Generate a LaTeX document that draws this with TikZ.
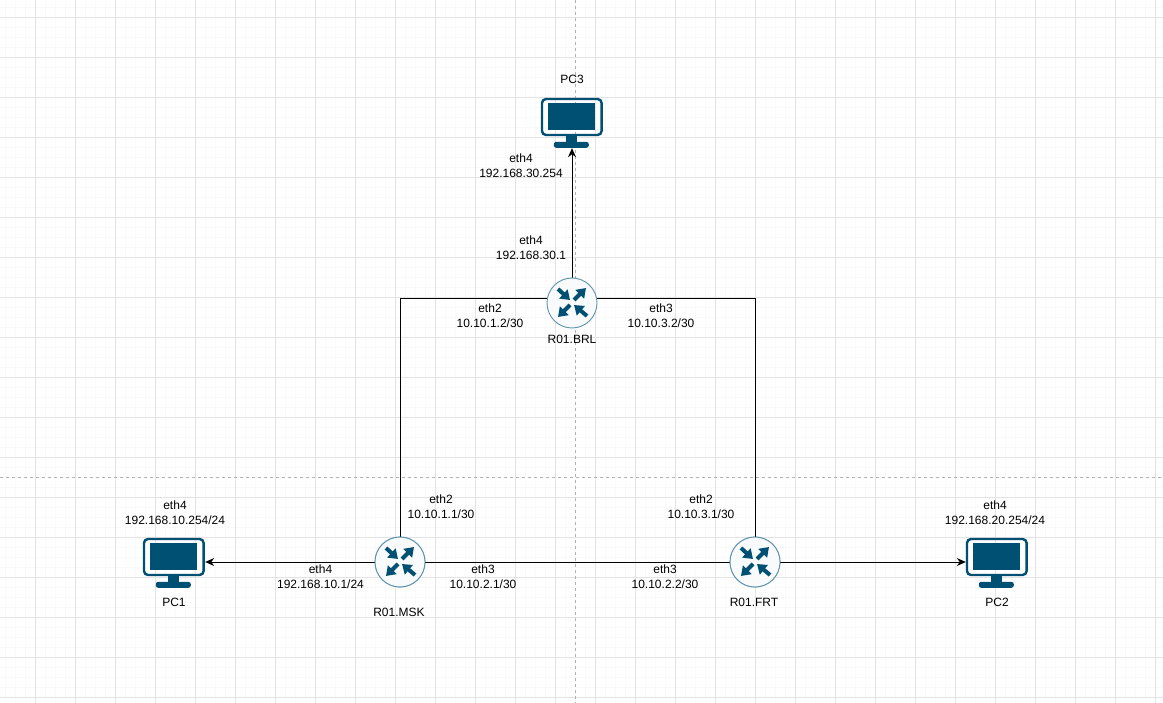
\documentclass[tikz,border=0pt]{standalone}
\usepackage{fontspec}
\setmainfont{Liberation Sans}
\usetikzlibrary{arrows.meta}
\definecolor{icon}{HTML}{005073}
\definecolor{ring}{HTML}{5E93AB}
\definecolor{disc}{HTML}{F8FAFB}
\tikzset{
  lbl/.style={align=center, inner sep=0pt, font=\fontsize{12}{15}\selectfont},
  router/.style={circle, draw=ring, fill=disc, line width=0.9pt, minimum size=50pt, inner sep=0pt},
  link/.style={draw=black, line width=0.9pt},
  linkarrow/.style={link, -{Stealth[length=9pt,width=8pt]}},
  turn/.style={line width=4pt, draw=icon, -{Triangle[length=9pt,width=12pt]}}
}
\newcommand{\routerarrows}[1]{
\draw[turn] (#1) ++(-14,-14) -- ++(12,11);
\draw[turn] (#1) ++(2,-3) -- ++(12,-12);
\draw[turn] (#1) ++(-2,2) -- ++(-12,12);
\draw[turn] (#1) ++(15,13) -- ++(-13,-11);
}
\newcommand{\pcicon}[2]{
\node[inner sep=0pt, minimum width=62pt, minimum height=50pt] (#1) at (#2) {};
\draw[icon, line width=2.4pt, rounded corners=4pt] (#1.north west) ++(1.2,1.2) rectangle ++(59.6,36);
\fill[icon] (#1.north west) ++(7,5) rectangle ++(47,27);
\fill[icon] (#1.north west) ++(25.5,38) rectangle ++(11,7);
\fill[icon, rounded corners=2.4pt] (#1.north west) ++(13,44) rectangle ++(35,6);
}
\begin{document}
\begin{tikzpicture}[x=1pt, y=-1pt]
\useasboundingbox (0,0) rectangle (1163,703);
\fill[white] (0,0) rectangle (1163,703);
% grid
\foreach \gx in {0,10,...,1170} \draw[black!2.5, line width=1.5pt] (\gx+5.7,0) -- (\gx+5.7,703);
\foreach \gy in {0,10,...,710} \draw[black!2.5, line width=1.5pt] (0,\gy+7.3) -- (1163,\gy+7.3);
\foreach \gx in {0,40,...,1163} \draw[black!11, line width=0.8pt] (\gx+35.7,0) -- (\gx+35.7,703);
\foreach \gy in {0,40,...,703} \draw[black!11, line width=0.8pt] (0,\gy+17.3) -- (1163,\gy+17.3);
\draw[black!30, dashed, line width=0.6pt] (575,0) -- (575,703);
\draw[black!30, dashed, line width=0.6pt] (0,477) -- (1163,477);

% devices
\pcicon{pc3}{572,123}
\pcicon{pc1}{174,563}
\pcicon{pc2}{997,563}
\node[router] (msk) at (400,562) {};
\node[router] (frt) at (755,562) {};
\coordinate (brlport) at (572,298);

% links
\draw[linkarrow] (brlport) -- (pc3.south);
\draw[linkarrow] (msk) -- (pc1.east |- msk);
\draw[linkarrow] (frt) -- (pc2.west |- frt);
\draw[link] (msk) -- (frt);
\draw[link] (brlport) -| (msk);
\draw[link] (brlport) -| (frt);
\node[router] (brl) at (572,303) {};
\node[router] at (msk) {};
\node[router] at (frt) {};
\routerarrows{brl}
\routerarrows{msk}
\routerarrows{frt}

% labels
\node[lbl] (pc3name) at (572,79) {PC3};
\node[lbl] (pc1name) at (174,602) {PC1};
\node[lbl] (pc2name) at (997,602) {PC2};
\node[lbl] (brlname) at (572,339) {R01.BRL};
\node[lbl] (mskname) at (399,612) {R01.MSK};
\node[lbl] (frtname) at (754,602) {R01.FRT};
\node[lbl] (pc3eth4) at (521,166) {eth4\\192.168.30.254};
\node[lbl] (brleth4) at (531,248) {eth4\\192.168.30.1};
\node[lbl] (brleth2) at (490,316) {eth2\\10.10.1.2/30};
\node[lbl] (brleth3) at (661,316) {eth3\\10.10.3.2/30};
\node[lbl] (msketh2) at (441,507) {eth2\\10.10.1.1/30};
\node[lbl] (frteth2) at (701,507) {eth2\\10.10.3.1/30};
\node[lbl] (pc1eth4) at (175,513) {eth4\\192.168.10.254/24};
\node[lbl] (msketh4) at (320.5,577) {eth4\\192.168.10.1/24};
\node[lbl] (msketh3) at (483,577) {eth3\\10.10.2.1/30};
\node[lbl] (frteth3) at (665,577) {eth3\\10.10.2.2/30};
\node[lbl] (pc2eth4) at (995,513) {eth4\\192.168.20.254/24};
\end{tikzpicture}
\end{document}
